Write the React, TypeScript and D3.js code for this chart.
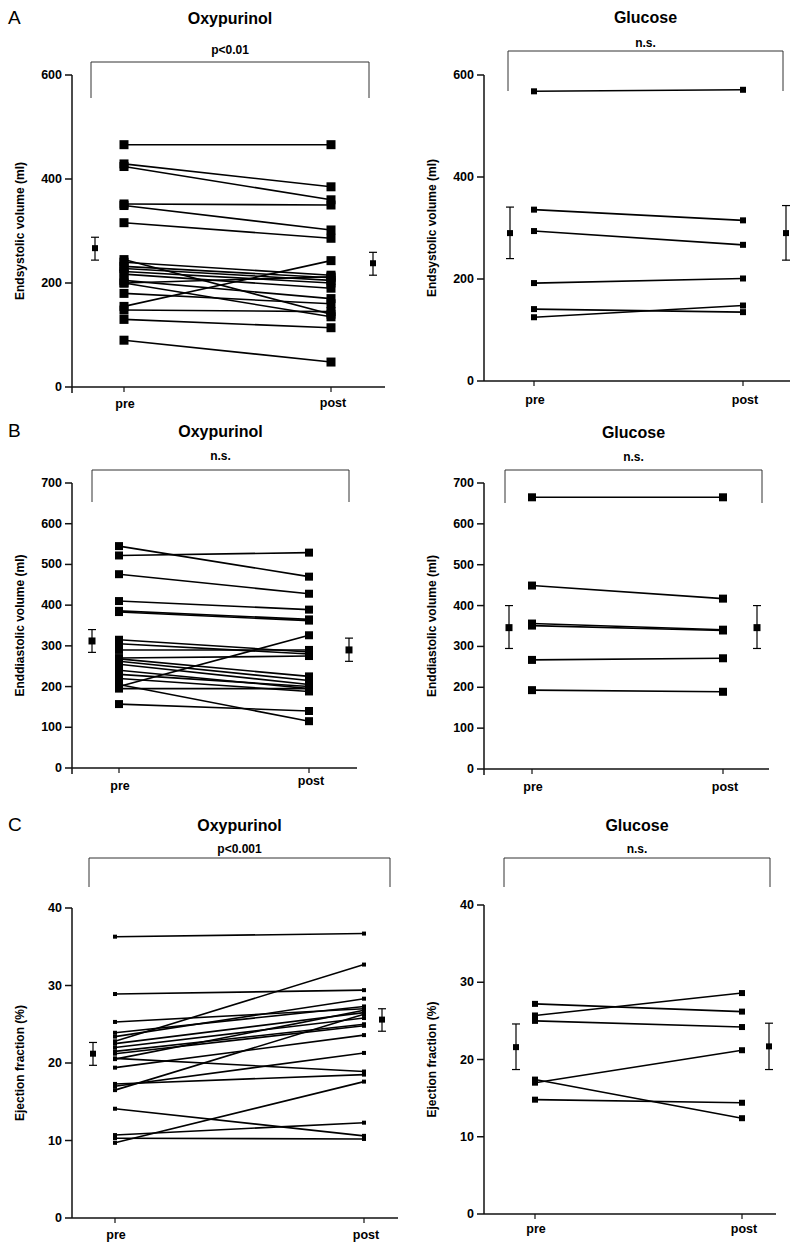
import React from "react";
import * as d3 from "d3";

// Endsystolic volume (ml)
const esvOxyPre = [466, 429, 424, 352, 349, 316, 245, 240, 232, 228, 222, 217, 205, 200, 180, 155, 148, 130, 90, 200];
const esvOxyPost = [466, 385, 360, 350, 302, 286, 140, 215, 210, 205, 200, 190, 170, 135, 160, 243, 145, 114, 48, 212];
const esvOxyMean = [267, 238];
const esvOxyLo = [244, 215];
const esvOxyHi = [288, 259];

const esvGluPre = [568, 336, 294, 192, 141, 125];
const esvGluPost = [571, 315, 267, 201, 135, 148];
const esvGluMean = [290, 290];
const esvGluLo = [240, 237];
const esvGluHi = [341, 344];

// Enddiastolic volume (ml)
const edvOxyPre = [545, 522, 476, 410, 386, 383, 315, 305, 290, 270, 268, 262, 255, 240, 230, 220, 200, 205, 195, 157];
const edvOxyPost = [470, 529, 428, 389, 365, 362, 285, 280, 290, 275, 225, 215, 205, 195, 200, 188, 326, 115, 195, 140];
const edvOxyMean = [312, 290];
const edvOxyLo = [284, 262];
const edvOxyHi = [340, 319];

const edvGluPre = [665, 449, 356, 351, 267, 193];
const edvGluPost = [665, 417, 341, 339, 271, 189];
const edvGluMean = [346, 346];
const edvGluLo = [295, 295];
const edvGluHi = [400, 400];

// Ejection fraction (%)
const efOxyPre = [36.3, 28.9, 25.3, 23.9, 23.4, 22.8, 22.5, 22.0, 21.5, 21.2, 20.6, 20.5, 19.4, 17.3, 17.0, 16.5, 14.1, 10.7, 10.3, 9.7];
const efOxyPost = [36.7, 29.4, 27.0, 27.3, 28.3, 32.7, 26.5, 25.8, 25.0, 24.8, 18.9, 26.8, 23.6, 18.5, 21.3, 26.3, 10.6, 12.3, 10.2, 17.6];
const efOxyMean = [21.2, 25.6];
const efOxyLo = [19.7, 24.1];
const efOxyHi = [22.65, 27.0];

const efGluPre = [27.2, 25.7, 25.0, 17.0, 17.4, 14.8];
const efGluPost = [26.2, 28.6, 24.2, 21.2, 12.4, 14.4];
const efGluMean = [21.6, 21.7];
const efGluLo = [18.7, 18.7];
const efGluHi = [24.6, 24.7];

const volTicksA = [0, 200, 400, 600];
const volTicksB = [0, 100, 200, 300, 400, 500, 600, 700];
const efTicks = [0, 10, 20, 30, 40];
const timepoints = ["pre", "post"];

const FONT = "'Liberation Sans', Arial, sans-serif";

const panels = [
  {
    letter: "A", title: "Oxypurinol", sig: "p<0.01", yLabel: "Endsystolic volume (ml)",
    pre: esvOxyPre, post: esvOxyPost, mean: esvOxyMean, lo: esvOxyLo, hi: esvOxyHi,
    ticks: volTicksA, yMax: 600, axisX: 72, y0: 387, y1: 75, xEnd: 385,
    preX: 124, postX: 331, errX: [95, 373], marker: 9, meanSize: 6,
    bracket: { x1: 91, x2: 369, y: 62, yEnd: 98 }, titleY: 18, sigY: 50, labelX: 20,
    xLabelY: [404, 403], leftTick: true,
  },
  {
    letter: "", title: "Glucose", sig: "n.s.", yLabel: "Endsystolic volume (ml)",
    pre: esvGluPre, post: esvGluPost, mean: esvGluMean, lo: esvGluLo, hi: esvGluHi,
    ticks: volTicksA, yMax: 600, axisX: 484, y0: 381, y1: 75, xEnd: 790,
    preX: 534, postX: 743, errX: [510, 786], marker: 6, meanSize: 6,
    bracket: { x1: 508, x2: 783, y: 51, yEnd: 91 }, titleY: 17, sigY: 43, labelX: 432,
    xLabelY: [400, 400], leftTick: false,
  },
  {
    letter: "B", title: "Oxypurinol", sig: "n.s.", yLabel: "Enddiastolic volume (ml)",
    pre: edvOxyPre, post: edvOxyPost, mean: edvOxyMean, lo: edvOxyLo, hi: edvOxyHi,
    ticks: volTicksB, yMax: 700, axisX: 72, y0: 768, y1: 483, xEnd: 357,
    preX: 119, postX: 309, errX: [92, 349], marker: 8, meanSize: 7,
    bracket: { x1: 92, x2: 349, y: 470, yEnd: 502 }, titleY: 431, sigY: 456, labelX: 20,
    xLabelY: [786, 781], leftTick: true,
  },
  {
    letter: "", title: "Glucose", sig: "n.s.", yLabel: "Enddiastolic volume (ml)",
    pre: edvGluPre, post: edvGluPost, mean: edvGluMean, lo: edvGluLo, hi: edvGluHi,
    ticks: volTicksB, yMax: 700, axisX: 484, y0: 769, y1: 483, xEnd: 769,
    preX: 532, postX: 723, errX: [509, 757], marker: 8, meanSize: 7,
    bracket: { x1: 505, x2: 762, y: 470, yEnd: 503 }, titleY: 432, sigY: 457, labelX: 432,
    xLabelY: [787, 787], leftTick: true,
  },
  {
    letter: "C", title: "Oxypurinol", sig: "p<0.001", yLabel: "Ejection fraction (%)",
    pre: efOxyPre, post: efOxyPost, mean: efOxyMean, lo: efOxyLo, hi: efOxyHi,
    ticks: efTicks, yMax: 40, axisX: 72, y0: 1218, y1: 908, xEnd: 398,
    preX: 115, postX: 364, errX: [93, 382], marker: 4, meanSize: 6,
    bracket: { x1: 89, x2: 390, y: 858, yEnd: 887 }, titleY: 825, sigY: 849, labelX: 20,
    xLabelY: [1235, 1235], leftTick: false,
  },
  {
    letter: "", title: "Glucose", sig: "n.s.", yLabel: "Ejection fraction (%)",
    pre: efGluPre, post: efGluPost, mean: efGluMean, lo: efGluLo, hi: efGluHi,
    ticks: efTicks, yMax: 40, axisX: 484, y0: 1214, y1: 905, xEnd: 776,
    preX: 535, postX: 742, errX: [516, 769], marker: 6, meanSize: 6,
    bracket: { x1: 504, x2: 770, y: 858, yEnd: 887 }, titleY: 825, sigY: 849, labelX: 432,
    xLabelY: [1229, 1229], leftTick: false,
  },
];

const Panel = ({ p }: { p: any }) => {
  const y = d3.scaleLinear().domain([0, p.yMax]).range([p.y0, p.y1]);
  const x = d3.scalePoint().domain(timepoints).range([p.preX, p.postX]);
  const cx = (p.bracket.x1 + p.bracket.x2) / 2;
  const ms = p.marker;
  const mm = p.meanSize;
  return (
    <g>
      {p.letter && (
        <text x={8} y={p.titleY + 6} fontSize={19} fontFamily={FONT}>
          {p.letter}
        </text>
      )}
      <text x={cx} y={p.titleY} fontSize={16} fontWeight="bold" fontFamily={FONT}
        textAnchor="middle" dominantBaseline="central">
        {p.title}
      </text>
      <text x={cx} y={p.sigY} fontSize={12} fontWeight="bold" fontFamily={FONT}
        textAnchor="middle" dominantBaseline="central">
        {p.sig}
      </text>
      {/* significance bracket */}
      <path
        d={`M${p.bracket.x1},${p.bracket.yEnd}V${p.bracket.y}H${p.bracket.x2}V${p.bracket.yEnd}`}
        fill="none" stroke="#333" strokeWidth={1}
      />
      {/* y axis */}
      <line x1={p.axisX} x2={p.axisX} y1={p.y1} y2={p.leftTick ? p.y0 + 6 : p.y0}
        stroke="#111" strokeWidth={1.5} />
      {p.ticks.map((t: number) => (
        <g key={t}>
          <line x1={p.axisX - 7} x2={p.axisX} y1={y(t)} y2={y(t)} stroke="#111" strokeWidth={1.5} />
          <text x={p.axisX - 10} y={y(t)} fontSize={12.5} fontWeight="bold" fontFamily={FONT}
            textAnchor="end" dominantBaseline="central">
            {t}
          </text>
        </g>
      ))}
      <text
        transform={`translate(${p.labelX},${(p.y0 + p.y1) / 2}) rotate(-90)`}
        fontSize={12} fontWeight="bold" fontFamily={FONT}
        textAnchor="middle" dominantBaseline="central">
        {p.yLabel}
      </text>
      {/* x axis */}
      <line x1={p.axisX} x2={p.xEnd} y1={p.y0} y2={p.y0} stroke="#111" strokeWidth={1.5} />
      {timepoints.map((t, i) => (
        <g key={t}>
          <line x1={x(t)} x2={x(t)} y1={p.y0} y2={p.y0 + 5} stroke="#111" strokeWidth={1.2} />
          <text x={x(t)! + (i === 0 ? 1 : 2)} y={p.xLabelY[i]} fontSize={12.5} fontWeight="bold"
            fontFamily={FONT} textAnchor="middle" dominantBaseline="central">
            {t}
          </text>
        </g>
      ))}
      {/* paired lines */}
      {p.pre.map((v: number, i: number) => (
        <line key={"l" + i} x1={x("pre")} x2={x("post")} y1={y(v)} y2={y(p.post[i])}
          stroke="#000" strokeWidth={1.6} />
      ))}
      {p.pre.map((v: number, i: number) => (
        <g key={"m" + i}>
          <rect x={x("pre")! - ms / 2} y={y(v) - ms / 2} width={ms} height={ms} fill="#000" />
          <rect x={x("post")! - ms / 2} y={y(p.post[i]) - ms / 2} width={ms} height={ms} fill="#000" />
        </g>
      ))}
      {/* mean ± SEM */}
      {p.mean.map((m: number, i: number) => {
        const ex = p.errX[i];
        return (
          <g key={"e" + i}>
            <line x1={ex} x2={ex} y1={y(p.hi[i])} y2={y(p.lo[i])} stroke="#000" strokeWidth={1.2} />
            <line x1={ex - 4} x2={ex + 4} y1={y(p.hi[i])} y2={y(p.hi[i])} stroke="#000" strokeWidth={1.2} />
            <line x1={ex - 4} x2={ex + 4} y1={y(p.lo[i])} y2={y(p.lo[i])} stroke="#000" strokeWidth={1.2} />
            <rect x={ex - mm / 2} y={y(m) - mm / 2} width={mm} height={mm} fill="#000" />
          </g>
        );
      })}
    </g>
  );
};

export default function App() {
  return (
    <svg width={800} height={1250} style={{ position: "absolute", left: 0, top: 0, background: "#fff" }}>
      <rect width={800} height={1250} fill="#fff" />
      {panels.map((p, i) => (
        <Panel key={i} p={p} />
      ))}
    </svg>
  );
}
